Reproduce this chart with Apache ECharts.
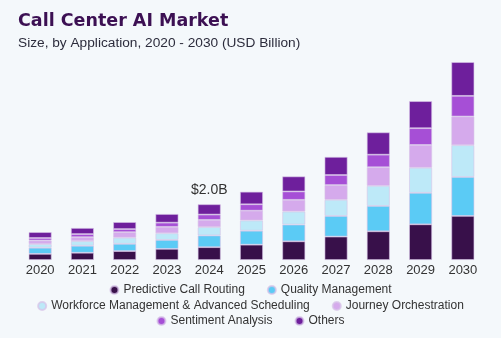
<!DOCTYPE html>
<html>
<head>
<meta charset="utf-8">
<script src="https://cdn.jsdelivr.net/npm/echarts@6/dist/echarts.min.js"></script>
<style>
html,body{margin:0;padding:0;background:#f4f8fb;}
#chart{width:501px;height:338px;}
</style>
</head>
<body>
<div id="chart"></div>
<script>
// Data (USD Billion)
var years = ['2020','2021','2022','2023','2024','2025','2026','2027','2028','2029','2030'];
var predictiveCallRouting = [0.22,0.26,0.32,0.40,0.46,0.55,0.67,0.84,1.03,1.28,1.58];
var qualityManagement     = [0.22,0.25,0.26,0.32,0.42,0.50,0.60,0.74,0.91,1.13,1.40];
var workforceManagement   = [0.13,0.17,0.22,0.24,0.30,0.37,0.47,0.58,0.72,0.90,1.14];
var journeyOrchestration  = [0.13,0.14,0.20,0.23,0.26,0.35,0.42,0.53,0.67,0.82,1.03];
var sentimentAnalysis     = [0.09,0.11,0.11,0.15,0.19,0.23,0.30,0.36,0.45,0.60,0.74];
var others                = [0.21,0.22,0.25,0.31,0.37,0.45,0.54,0.65,0.80,0.97,1.21];
var seriesNames = ['Predictive Call Routing','Quality Management','Workforce Management & Advanced Scheduling','Journey Orchestration','Sentiment Analysis','Others'];
var labelYear = '2024';
var labelText = '$2.0B';

var colors = ['#38104a','#5bcbf5','#bde9f8','#d5aaec','#a64fd6','#6e1f9c'];
var allData = [predictiveCallRouting, qualityManagement, workforceManagement, journeyOrchestration, sentimentAnalysis, others];

var series = allData.map(function(arr, i){
  var data = arr.map(function(v, j){
    if (i === allData.length - 1 && years[j] === labelYear) {
      return {value: v, label: {show: true, position: 'top', distance: 7, formatter: labelText,
        color: '#333', fontSize: 14, fontFamily: 'Liberation Sans, Arial, sans-serif'}};
    }
    return v;
  });
  return {
    name: seriesNames[i], type: 'bar', stack: 'total', barWidth: 23,
    itemStyle: {color: colors[i], borderColor: 'rgba(215,195,232,0.75)', borderWidth: 0.8},
    data: data
  };
});

var legendBase = {
  left: 'center', icon: 'circle', itemWidth: 8, itemHeight: 8, itemGap: 22,
  textStyle: {color: '#333', fontSize: 12, fontFamily: 'Liberation Sans, Arial, sans-serif'}
};
function mkLegend(names, top){
  var o = {}; for (var k in legendBase) o[k] = legendBase[k];
  o.data = names; o.top = top; return o;
}

var chart = echarts.init(document.getElementById('chart'), null, {renderer: 'canvas'});
chart.setOption({
  backgroundColor: '#f4f8fb',
  color: colors,
  animation: false,
  title: [
    {text: 'Call Center AI Market', left: 13, top: 7,
     textStyle: {color: '#3c1053', fontSize: 17.5, fontWeight: 'bold', fontFamily: 'DejaVu Sans'}},
    {text: 'Size, by Application, 2020 - 2030 (USD Billion)', left: 13, top: 31,
     textStyle: {color: '#2c2c3c', fontSize: 13.7, fontWeight: 'normal', fontFamily: 'Liberation Sans, Arial, sans-serif'}}
  ],
  legend: [
    mkLegend(seriesNames.slice(0,2), 279),
    mkLegend(seriesNames.slice(2,4), 295),
    mkLegend(seriesNames.slice(4,6), 310)
  ],
  grid: {left: 19, right: 17, top: 51, bottom: 78},
  xAxis: {
    type: 'category', data: years,
    axisLine: {show: false}, axisTick: {show: false},
    axisLabel: {color: '#333', fontSize: 13, margin: 4, fontFamily: 'Liberation Sans, Arial, sans-serif'}
  },
  yAxis: {type: 'value', min: 0, max: 7.5, show: false, splitLine: {show: false}},
  series: series
});
</script>
</body>
</html>
